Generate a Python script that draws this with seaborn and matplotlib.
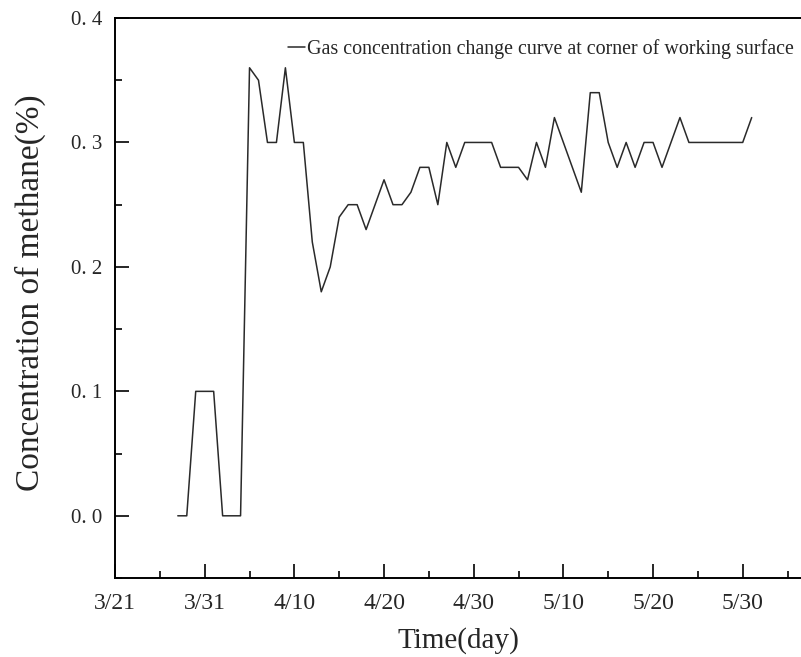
"""
Methane concentration at the working-surface corner, 3/28 - 5/31
"""
import pandas as pd
import matplotlib.pyplot as plt
import seaborn as sns

# days counted from 3/21
days = list(range(7, 72))
methane = [
    0.00, 0.00, 0.10, 0.10, 0.10, 0.00, 0.00, 0.00,        # 3/28 - 4/4
    0.36, 0.35, 0.30, 0.30, 0.36, 0.30, 0.30, 0.22,        # 4/5 - 4/12
    0.18, 0.20, 0.24, 0.25, 0.25, 0.23, 0.25, 0.27,        # 4/13 - 4/20
    0.25, 0.25, 0.26, 0.28, 0.28, 0.25, 0.30, 0.28,        # 4/21 - 4/28
    0.30, 0.30, 0.30, 0.30, 0.28, 0.28, 0.28, 0.27,        # 4/29 - 5/6
    0.30, 0.28, 0.32, 0.30, 0.28, 0.26, 0.34, 0.34,        # 5/7 - 5/14
    0.30, 0.28, 0.30, 0.28, 0.30, 0.30, 0.28, 0.30,        # 5/15 - 5/22
    0.32, 0.30, 0.30, 0.30, 0.30, 0.30, 0.30, 0.30, 0.32,  # 5/23 - 5/31
]
x_ticks = [0, 10, 20, 30, 40, 50, 60, 70]
x_labels = ['3/21', '3/31', '4/10', '4/20', '4/30', '5/10', '5/20', '5/30']
y_ticks = [0.0, 0.1, 0.2, 0.3, 0.4]
y_labels = ['0. 0', '0. 1', '0. 2', '0. 3', '0. 4']
series_name = 'Gas concentration change curve at corner of working surface'

df = pd.DataFrame({'day': days, 'methane': methane})

sns.set_style("ticks")
plt.rcParams['font.family'] = ['Liberation Serif', 'DejaVu Serif']

fig = plt.figure(figsize=(8.01, 6.57), dpi=100)
ax = fig.add_axes([0.1436, 0.1202, 0.8564, 0.8524])

sns.lineplot(data=df, x='day', y='methane', color='#2a2a2a', linewidth=1.1,
             label=series_name, ax=ax)

ax.set_xlim(0, 76.5)
ax.set_ylim(-0.048, 0.4)
ax.set_xticks(x_ticks)
ax.set_xticklabels(x_labels, fontsize=17)
ax.set_xticks([5, 15, 25, 35, 45, 55, 65, 75], minor=True)
ax.set_yticks(y_ticks)
ax.set_yticklabels(y_labels, fontsize=15)
ax.set_yticks([-0.05, 0.05, 0.15, 0.25, 0.35], minor=True)
ax.tick_params(axis='both', which='major', direction='in', length=10, width=1.4)
ax.tick_params(axis='both', which='minor', direction='in', length=5, width=1.4)
ax.tick_params(axis='x', pad=11)
ax.tick_params(axis='y', pad=9)

for side in ['left', 'bottom', 'top']:
    ax.spines[side].set_linewidth(1.4)
    ax.spines[side].set_color('black')
ax.spines['right'].set_visible(False)

ax.set_xlabel('Time(day)', fontsize=21, labelpad=9)
ax.set_ylabel('Concentration of methane(%)', fontsize=24)
ax.yaxis.set_label_coords(-0.10, 0.51)

ax.legend(loc='upper left', bbox_to_anchor=(0.252, 0.963), frameon=False,
          fontsize=14.4, handlelength=0.85, handletextpad=0.12, borderpad=0,
          borderaxespad=0)

plt.savefig('out.png', dpi=100)
plt.close()
